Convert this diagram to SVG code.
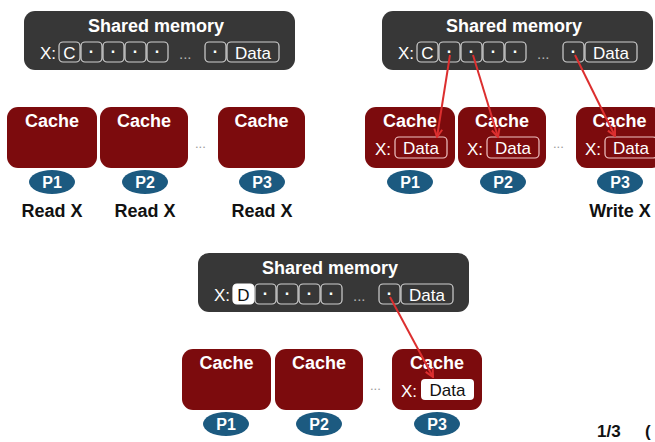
<svg xmlns="http://www.w3.org/2000/svg" width="655" height="442" viewBox="0 0 655 442">
<style>
text{font-family:"Liberation Sans",Arial,sans-serif}
.mem{fill:#373737}
.title{fill:#fff;font-size:18px;font-weight:bold;text-anchor:middle}
.cell{fill:none;stroke:#d0d0d0;stroke-width:1.2}
.cellw{fill:#fff;stroke:#fff;stroke-width:1.2}
.ct{fill:#fff;font-size:17px;text-anchor:middle}
.ctb{fill:#111;font-size:17px;text-anchor:middle}
.dot{fill:#fff;font-size:16px;font-weight:bold;text-anchor:middle}
.xl{fill:#fff;font-size:17px}
.ell{fill:#b5b5b5;font-size:15px}
.ell2{fill:#999;font-size:13px}
.cache{fill:#7c0b0d}
.ccell{fill:none;stroke:#f0c4c4;stroke-width:1.2}
.ccellw{fill:#fff}
.ctitle{fill:#fff;font-size:18px;font-weight:bold;text-anchor:middle}
.proc{fill:#1c5a80}
.ptext{fill:#fff;font-size:16px;font-weight:bold;text-anchor:middle}
.lbl{fill:#111;font-size:18px;font-weight:bold;text-anchor:middle}
.arr{stroke:#dc2f2f;stroke-width:2;fill:none;marker-end:url(#ah)}
</style>
<defs>
<marker id="ah" viewBox="0 0 10 10" refX="9" refY="5" markerWidth="10" markerHeight="10" markerUnits="userSpaceOnUse" orient="auto">
<path d="M1,1 L9,5 L1,9" fill="none" stroke="#dc2f2f" stroke-width="2"/>
</marker>
</defs>

<!-- Panel 1 -->
<g id="mem1">
<rect class="mem" x="24" y="11" width="271" height="59" rx="11"/>
<text class="title" x="156" y="32">Shared memory</text>
<text class="xl" x="40" y="59">X:</text>
<rect class="cell" x="59" y="42" width="21" height="20" rx="4"/><text class="ct" x="69.5" y="59">C</text>
<rect class="cell" x="81" y="42" width="21" height="20" rx="4"/><text class="dot" x="91.5" y="57">·</text>
<rect class="cell" x="103" y="42" width="21" height="20" rx="4"/><text class="dot" x="113.5" y="57">·</text>
<rect class="cell" x="125" y="42" width="21" height="20" rx="4"/><text class="dot" x="135.5" y="57">·</text>
<rect class="cell" x="147" y="42" width="21" height="20" rx="4"/><text class="dot" x="157.5" y="57">·</text>
<text class="ell" x="179" y="59">...</text>
<rect class="cell" x="205" y="42" width="21" height="20" rx="4"/><text class="dot" x="215.5" y="57">·</text>
<rect class="cell" x="227" y="42" width="52" height="20" rx="4"/><text class="ct" x="253" y="59">Data</text>
</g>
<g id="cache1a"><rect class="cache" x="7" y="107" width="90" height="61" rx="11"/><text class="ctitle" x="52" y="127">Cache</text></g>
<g id="cache1b"><rect class="cache" x="100" y="107" width="88" height="61" rx="11"/><text class="ctitle" x="144" y="127">Cache</text></g>
<text class="ell2" x="195" y="148">...</text>
<g id="cache1c"><rect class="cache" x="218" y="107" width="87" height="61" rx="11"/><text class="ctitle" x="261.5" y="127">Cache</text></g>
<g id="p1a"><ellipse class="proc" cx="52" cy="182" rx="23" ry="12"/><text class="ptext" x="52" y="188">P1</text><text class="lbl" x="52" y="217">Read X</text></g>
<g id="p1b"><ellipse class="proc" cx="145" cy="182" rx="23" ry="12"/><text class="ptext" x="145" y="188">P2</text><text class="lbl" x="145" y="217">Read X</text></g>
<g id="p1c"><ellipse class="proc" cx="262" cy="182" rx="23" ry="12"/><text class="ptext" x="262" y="188">P3</text><text class="lbl" x="262" y="217">Read X</text></g>

<!-- Panel 2 -->
<g id="mem2" transform="translate(358,0)">
<rect class="mem" x="24" y="11" width="271" height="59" rx="11"/>
<text class="title" x="156" y="32">Shared memory</text>
<text class="xl" x="40" y="59">X:</text>
<rect class="cell" x="59" y="42" width="21" height="20" rx="4"/><text class="ct" x="69.5" y="59">C</text>
<rect class="cell" x="81" y="42" width="21" height="20" rx="4"/><text class="dot" x="91.5" y="57">·</text>
<rect class="cell" x="103" y="42" width="21" height="20" rx="4"/><text class="dot" x="113.5" y="57">·</text>
<rect class="cell" x="125" y="42" width="21" height="20" rx="4"/><text class="dot" x="135.5" y="57">·</text>
<rect class="cell" x="147" y="42" width="21" height="20" rx="4"/><text class="dot" x="157.5" y="57">·</text>
<text class="ell" x="179" y="59">...</text>
<rect class="cell" x="205" y="42" width="21" height="20" rx="4"/><text class="dot" x="215.5" y="57">·</text>
<rect class="cell" x="227" y="42" width="52" height="20" rx="4"/><text class="ct" x="253" y="59">Data</text>
</g>
<g id="cache2a"><rect class="cache" x="365" y="107" width="90" height="61" rx="11"/><text class="ctitle" x="410" y="127">Cache</text><text class="xl" x="375" y="155">X:</text><rect class="ccell" x="395" y="137" width="52" height="21" rx="4"/><text class="ct" x="421" y="154">Data</text></g>
<g id="cache2b"><rect class="cache" x="458" y="107" width="88" height="61" rx="11"/><text class="ctitle" x="502" y="127">Cache</text><text class="xl" x="467" y="155">X:</text><rect class="ccell" x="487" y="137" width="52" height="21" rx="4"/><text class="ct" x="513" y="154">Data</text></g>
<text class="ell2" x="553" y="148">...</text>
<g id="cache2c"><rect class="cache" x="576" y="107" width="87" height="61" rx="11"/><text class="ctitle" x="619.5" y="127">Cache</text><text class="xl" x="585" y="155">X:</text><rect class="ccell" x="605" y="137" width="52" height="21" rx="4"/><text class="ct" x="631" y="154">Data</text></g>
<g id="p2a"><ellipse class="proc" cx="410" cy="182" rx="23" ry="12"/><text class="ptext" x="410" y="188">P1</text></g>
<g id="p2b"><ellipse class="proc" cx="503" cy="182" rx="23" ry="12"/><text class="ptext" x="503" y="188">P2</text></g>
<g id="p2c"><ellipse class="proc" cx="620" cy="182" rx="23" ry="12"/><text class="ptext" x="620" y="188">P3</text><text class="lbl" x="620" y="217">Write X</text></g>

<!-- Panel 3 -->
<g id="mem3" transform="translate(174,242)">
<rect class="mem" x="24" y="11" width="271" height="59" rx="11"/>
<text class="title" x="156" y="32">Shared memory</text>
<text class="xl" x="40" y="59">X:</text>
<rect class="cellw" x="59" y="42" width="21" height="20" rx="4"/><text class="ctb" x="69.5" y="59">D</text>
<rect class="cell" x="81" y="42" width="21" height="20" rx="4"/><text class="dot" x="91.5" y="57">·</text>
<rect class="cell" x="103" y="42" width="21" height="20" rx="4"/><text class="dot" x="113.5" y="57">·</text>
<rect class="cell" x="125" y="42" width="21" height="20" rx="4"/><text class="dot" x="135.5" y="57">·</text>
<rect class="cell" x="147" y="42" width="21" height="20" rx="4"/><text class="dot" x="157.5" y="57">·</text>
<text class="ell" x="179" y="59">...</text>
<rect class="cell" x="205" y="42" width="21" height="20" rx="4"/><text class="dot" x="215.5" y="57">·</text>
<rect class="cell" x="227" y="42" width="52" height="20" rx="4"/><text class="ct" x="253" y="59">Data</text>
</g>
<g id="cache3a"><rect class="cache" x="182" y="349" width="89" height="61" rx="11"/><text class="ctitle" x="226.5" y="369">Cache</text></g>
<g id="cache3b"><rect class="cache" x="275" y="349" width="88" height="61" rx="11"/><text class="ctitle" x="319" y="369">Cache</text></g>
<text class="ell2" x="370" y="390">...</text>
<g id="cache3c"><rect class="cache" x="392" y="349" width="90" height="61" rx="11"/><text class="ctitle" x="437" y="369">Cache</text><text class="xl" x="401" y="397">X:</text><rect class="ccellw" x="421" y="379" width="53" height="21" rx="4"/><text class="ctb" x="447.5" y="396">Data</text></g>
<g id="p3a"><ellipse class="proc" cx="226" cy="424" rx="23" ry="12"/><text class="ptext" x="226" y="430">P1</text></g>
<g id="p3b"><ellipse class="proc" cx="319" cy="424" rx="23" ry="12"/><text class="ptext" x="319" y="430">P2</text></g>
<g id="p3c"><ellipse class="proc" cx="437" cy="424" rx="23" ry="12"/><text class="ptext" x="437" y="430">P3</text></g>

<g id="connectors">
<line class="arr" x1="450" y1="55" x2="437" y2="137"/>
<line class="arr" x1="473" y1="55" x2="498" y2="137"/>
<line class="arr" x1="575" y1="55" x2="615" y2="136"/>
<line class="arr" x1="390" y1="297" x2="433" y2="377"/>
</g>

<text x="597" y="437" style="fill:#111;font-size:17px;font-weight:bold">1/3</text>
<text x="645" y="437" style="fill:#111;font-size:17px;font-weight:bold">(</text>
</svg>
